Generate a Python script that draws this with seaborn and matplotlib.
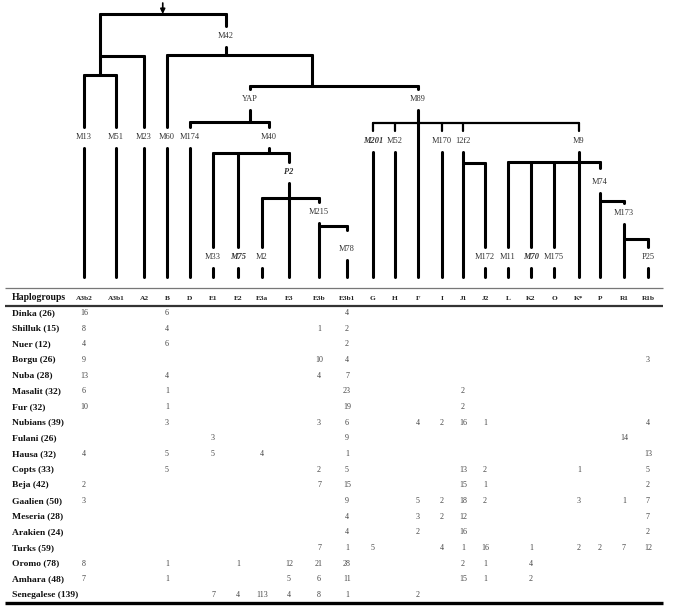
import numpy as np
import pandas as pd
import matplotlib.pyplot as plt
import seaborn as sns

# haplogroup columns of the table (left to right)
haplogroups = ["A3b2", "A3b1", "A2", "B", "D", "E1", "E2", "E3a", "E3", "E3b",
               "E3b1", "G", "H", "F", "I", "J1", "J2", "L", "K2", "O", "K*",
               "P", "R1", "R1b"]

populations = ["Dinka (26)", "Shilluk (15)", "Nuer (12)", "Borgu (26)",
               "Nuba (28)", "Masalit (32)", "Fur (32)", "Nubians (39)",
               "Fulani (26)", "Hausa (32)", "Copts (33)", "Beja (42)",
               "Gaalien (50)", "Meseria (28)", "Arakien (24)", "Turks (59)",
               "Oromo (78)", "Amhara (48)", "Senegalese (139)"]

# counts per population (only non-empty cells)
row_counts = [
    {"A3b2": 16, "B": 6, "E3b1": 4},
    {"A3b2": 8, "B": 4, "E3b": 1, "E3b1": 2},
    {"A3b2": 4, "B": 6, "E3b1": 2},
    {"A3b2": 9, "E3b": 10, "E3b1": 4, "R1b": 3},
    {"A3b2": 13, "B": 4, "E3b": 4, "E3b1": 7},
    {"A3b2": 6, "B": 1, "E3b1": 23, "J1": 2},
    {"A3b2": 10, "B": 1, "E3b1": 19, "J1": 2},
    {"B": 3, "E3b": 3, "E3b1": 6, "F": 4, "I": 2, "J1": 16, "J2": 1, "R1b": 4},
    {"E1": 3, "E3b1": 9, "R1": 14},
    {"A3b2": 4, "B": 5, "E1": 5, "E3a": 4, "E3b1": 1, "R1b": 13},
    {"B": 5, "E3b": 2, "E3b1": 5, "J1": 13, "J2": 2, "K*": 1, "R1b": 5},
    {"A3b2": 2, "E3b": 7, "E3b1": 15, "J1": 15, "J2": 1, "R1b": 2},
    {"A3b2": 3, "E3b1": 9, "F": 5, "I": 2, "J1": 18, "J2": 2, "K*": 3, "R1": 1, "R1b": 7},
    {"E3b1": 4, "F": 3, "I": 2, "J1": 12, "R1b": 7},
    {"E3b1": 4, "F": 2, "J1": 16, "R1b": 2},
    {"E3b": 7, "E3b1": 1, "G": 5, "I": 4, "J1": 1, "J2": 16, "K2": 1, "K*": 2, "P": 2, "R1": 7, "R1b": 12},
    {"A3b2": 8, "B": 1, "E2": 1, "E3": 12, "E3b": 21, "E3b1": 28, "J1": 2, "J2": 1, "K2": 4},
    {"A3b2": 7, "B": 1, "E3": 5, "E3b": 6, "E3b1": 11, "J1": 15, "J2": 1, "K2": 2},
    {"E1": 7, "E2": 4, "E3a": 113, "E3": 4, "E3b": 8, "E3b1": 1, "F": 2},
]

# tree: node, parent, column (fractional = between columns), label, label style
tree_nodes = [
    ("root", None, None, None, ""),
    ("A", "root", 0.5, None, ""),
    ("A'", "A", 0.5, None, ""),
    ("M13", "A'", 0, "M13", ""),
    ("M51", "A'", 1, "M51", ""),
    ("M23", "A", 2, "M23", ""),
    ("M42", "root", 5.5, "M42", ""),
    ("M60", "M42", 3, "M60", ""),
    ("DE-CF", "M42", 8.75, None, ""),
    ("YAP", "DE-CF", 6.5, "YAP", ""),
    ("M89", "DE-CF", 13, "M89", ""),
    ("M174", "YAP", 4, "M174", ""),
    ("M40", "YAP", 7.25, "M40", ""),
    ("M33", "M40", 5, "M33", ""),
    ("M75", "M40", 6, "M75", "bi"),
    ("P2", "M40", 8, "P2", "bi"),
    ("M2", "P2", 7, "M2", ""),
    ("M215", "P2", 9, "M215", ""),
    ("M78", "M215", 10, "M78", ""),
    ("M201", "M89", 11, "M201", "bi"),
    ("M52", "M89", 12, "M52", ""),
    ("M170", "M89", 14, "M170", ""),
    ("12f2", "M89", 15, "12f2", ""),
    ("M172", "12f2", 16, "M172", ""),
    ("M9", "M89", 20, "M9", ""),
    ("M11", "M9", 17, "M11", ""),
    ("M70", "M9", 18, "M70", "bi"),
    ("M175", "M9", 19, "M175", ""),
    ("M74", "M9", 21, "M74", ""),
    ("M173", "M74", 22, "M173", ""),
    ("P25", "M173", 23, "P25", ""),
]

# ---- layout (pixel units of the 680x609 figure) ----
col_px = [84, 116, 144, 167, 190, 213, 238, 262, 289, 319, 347, 373, 395,
          418, 442, 463, 485, 508, 531, 554, 579, 600, 624, 648]
label_y = {"M42": 36, "YAP": 99, "M89": 99, "P2": 172, "M215": 212,
           "M78": 249, "M74": 182, "M173": 213}
bar_y = {"root": 14, "A": 56, "A'": 75, "M42": 55, "DE-CF": 86, "YAP": 122,
         "M89": 123, "M40": 153, "P2": 198, "M215": 226, "12f2": 163,
         "M9": 162, "M74": 201, "M173": 239}
for name in ["M13", "M51", "M23", "M60", "M174", "M40"]:
    label_y[name] = 137
for name in ["M201", "M52", "M170", "12f2", "M9"]:
    label_y[name] = 141
for name in ["M33", "M75", "M2", "M172", "M11", "M70", "M175", "P25"]:
    label_y[name] = 257
gap_above = {"M78": 19, "M74": 14}
thin_children = {"M89"}
TREE_BOTTOM = 277


def xpos(c):
    return float(np.interp(c, np.arange(len(col_px)), col_px))


sns.set_theme(style="white")
plt.rcParams["font.family"] = ["Liberation Serif", "DejaVu Serif"]

fig = plt.figure(figsize=(6.8, 6.09), dpi=100)
ax = fig.add_axes([0, 0, 1, 1])

# node x positions
node_x = {}
children = {}
for name, parent, col, lab, sty in tree_nodes:
    if col is not None:
        node_x[name] = xpos(col)
    children.setdefault(parent, []).append(name)
kids = [node_x[c] for c in children["root"]]
node_x["root"] = (min(kids) + max(kids)) / 2

rows = []


def seg(x0, y0, x1, y1, thin=False):
    k = len(rows) // 2
    rows.append({"seg": k, "x": x0, "y": y0, "thin": thin})
    rows.append({"seg": k, "x": x1, "y": y1, "thin": thin})


for name, parent, col, lab, sty in tree_nodes:
    x = node_x[name]
    if parent is not None:
        y0 = bar_y[parent]
        end = TREE_BOTTOM if float(col).is_integer() else bar_y[name]
        if lab:
            seg(x, y0, x, label_y[name] - gap_above.get(name, 10),
                thin=parent in thin_children)
            seg(x, label_y[name] + 11, x, end)
        else:
            seg(x, y0, x, end)
    if name in children:
        xs = [node_x[c] for c in children[name]] + [x]
        seg(min(xs), bar_y[name], max(xs), bar_y[name],
            thin=name in thin_children)
    if lab:
        ax.text(x, label_y[name], lab, ha="center", va="center", fontsize=6,
                color="#333333",
                fontweight="bold" if "b" in sty else "normal",
                fontstyle="italic" if "i" in sty else "normal")

tree_df = pd.DataFrame(rows)
sns.lineplot(data=tree_df[~tree_df["thin"]], x="x", y="y", units="seg",
             estimator=None, sort=False, color="black", lw=2.2, ax=ax,
             legend=False)
sns.lineplot(data=tree_df[tree_df["thin"]], x="x", y="y", units="seg",
             estimator=None, sort=False, color="black", lw=1.6, ax=ax,
             legend=False)

# root arrow
ax.annotate("", xy=(node_x["root"], bar_y["root"]), xytext=(node_x["root"], 3),
            arrowprops=dict(arrowstyle="-|>", lw=1.2, color="black",
                            mutation_scale=7, shrinkA=0, shrinkB=0))

# ---- table ----
ax.hlines(288, 5, 663, color="#777777", lw=0.9)
ax.hlines(306, 5, 663, color="#333333", lw=1.6)
ax.hlines(603, 5, 663, color="black", lw=2.4)

ax.text(12, 298, "Haplogroups", ha="left", va="center", fontsize=7,
        fontweight="bold", color="#111111")
for i, h in enumerate(haplogroups):
    ax.text(col_px[i], 298, h, ha="center", va="center", fontsize=5.3,
            fontweight="bold", color="#222222")

row_step = (595 - 313) / (len(populations) - 1)
for r, (pop, counts) in enumerate(zip(populations, row_counts)):
    y = 313 + r * row_step
    ax.text(12, y, pop, ha="left", va="center", fontsize=6.8,
            fontweight="bold", color="#111111")
    for h, v in counts.items():
        ax.text(col_px[haplogroups.index(h)], y, str(v), ha="center",
                va="center", fontsize=5.8, color="#444444")

ax.set_xlim(0, 680)
ax.set_ylim(609, 0)
ax.axis("off")

fig.savefig("out.png", dpi=100)
